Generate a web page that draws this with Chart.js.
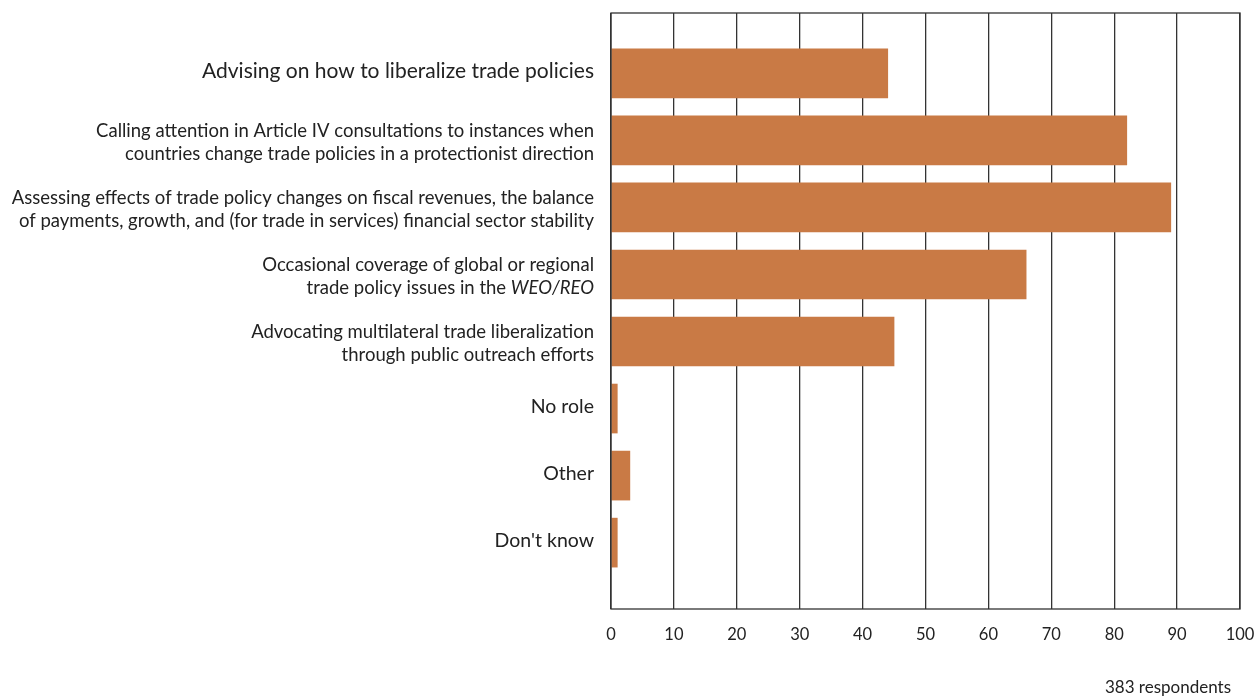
<!DOCTYPE html>
<html>
<head>
<meta charset="utf-8">
<script src="https://cdn.jsdelivr.net/npm/chart.js@4"></script>
<style>
  body { margin: 0; background: #fff; }
  canvas { display: block; }
</style>
</head>
<body>
<canvas id="roleChart" width="1256" height="697"></canvas>
<script>
// categories, one array of lines each; _text_ marks italic
const categories = [
  ["Advising on how to liberalize trade policies"],
  ["Calling attention in Article IV consultations to instances when", "countries change trade policies in a protectionist direction"],
  ["Assessing effects of trade policy changes on fiscal revenues, the balance", "of payments, growth, and (for trade in services) financial sector stability"],
  ["Occasional coverage of global or regional", "trade policy issues in the _WEO/REO_"],
  ["Advocating multilateral trade liberalization", "through public outreach efforts"],
  ["No role"],
  ["Other"],
  ["Don't know"]
];
const percentages = [44, 82, 89, 66, 45, 1, 3, 1];
const xTicks = [0, 10, 20, 30, 40, 50, 60, 70, 80, 90, 100];
const note = "383 respondents";

const labelFont = '"Lato", "Open Sans", sans-serif';
const textColor = "#222";

// font size for a label: the first one is set larger in the source
function labelSize(i, lines) {
  if (i === 0) return 21;
  return lines.length > 1 ? 18.5 : 19.5;
}

// draws the frame, the category labels (with italics) and the note
const labelsPlugin = {
  id: "labelsPlugin",
  afterDraw(chart) {
    const ctx = chart.ctx;
    const area = chart.chartArea;
    const yScale = chart.scales.y;
    ctx.save();
    ctx.strokeStyle = "#333";
    ctx.lineWidth = 1.3;
    ctx.strokeRect(area.left, area.top, area.right - area.left, area.bottom - area.top);

    ctx.fillStyle = textColor;
    ctx.textBaseline = "middle";
    ctx.textAlign = "left";
    const lineH = 23;
    categories.forEach((lines, i) => {
      const size = labelSize(i, lines);
      const cy = yScale.getPixelForValue(i) + (lines.length > 1 ? 2 : -2);
      const startY = cy - (lines.length - 1) * lineH / 2;
      lines.forEach((line, j) => {
        const parts = line.split("_");
        let w = 0;
        parts.forEach((p, k) => {
          ctx.font = (k % 2 ? "italic " : "") + size + "px " + labelFont;
          w += ctx.measureText(p).width;
        });
        let x = area.left - 17 - w;
        parts.forEach((p, k) => {
          ctx.font = (k % 2 ? "italic " : "") + size + "px " + labelFont;
          ctx.fillText(p, x, startY + j * lineH);
          x += ctx.measureText(p).width;
        });
      });
    });

    ctx.font = "17px " + labelFont;
    ctx.textAlign = "right";
    ctx.fillText(note, 1231, 688);
    ctx.restore();
  }
};

const ctx = document.getElementById("roleChart").getContext("2d");
new Chart(ctx, {
  type: "bar",
  data: {
    datasets: [{
      data: percentages.map((v, i) => ({ x: v, y: i })),
      backgroundColor: "#c97a45",
      borderWidth: 0,
      barThickness: 49
    }]
  },
  options: {
    indexAxis: "y",
    responsive: false,
    animation: false,
    layout: { padding: { left: 611, top: 13, right: 16, bottom: 0 } },
    plugins: {
      legend: { display: false },
      tooltip: { enabled: false }
    },
    scales: {
      x: {
        type: "linear",
        min: xTicks[0],
        max: xTicks[xTicks.length - 1],
        afterBuildTicks(scale) {
          scale.ticks = xTicks.map(v => ({ value: v }));
        },
        afterFit(scale) {
          scale.height = 88;
          scale.paddingLeft = 0;
          scale.paddingRight = 0;
        },
        grid: { color: "#333", lineWidth: 1.3, drawTicks: false },
        border: { display: false },
        ticks: {
          padding: 16,
          color: textColor,
          font: { family: labelFont, size: 16.5 }
        }
      },
      y: {
        type: "linear",
        reverse: true,
        offset: false,
        min: -0.9,
        max: 7.99,
        afterFit(scale) { scale.width = 0; },
        grid: { display: false },
        border: { display: false },
        ticks: { display: false }
      }
    }
  },
  plugins: [labelsPlugin]
});
</script>
</body>
</html>
